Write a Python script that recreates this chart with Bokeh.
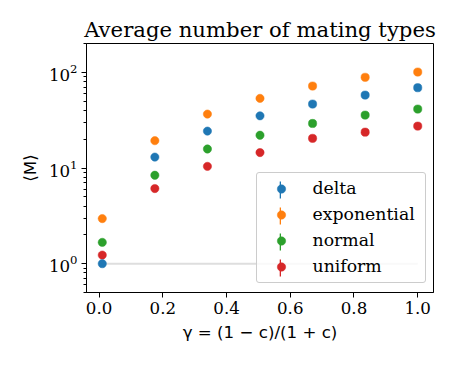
from bokeh.plotting import figure
from bokeh.models import (Range1d, FixedTicker, LogTicker, LogTickFormatter,
                          PrintfTickFormatter, Legend, LegendItem, ColumnDataSource)
from bokeh.embed import file_html
from bokeh.resources import INLINE

# ---- data ----
gamma = [0.01, 0.175, 0.34, 0.505, 0.67, 0.835, 1.0]
delta = [1.0, 13.0, 24.3, 35.1, 46.6, 57.8, 69.0]
exponential = [2.96, 19.3, 36.6, 53.4, 71.9, 88.7, 100.7]
normal = [1.67, 8.4, 15.8, 22.0, 29.2, 35.7, 41.3]
uniform = [1.23, 6.1, 10.4, 14.5, 20.4, 23.7, 27.4]
baseline = [1, 1, 1, 1, 1, 1, 1]
series_names = ["delta", "exponential", "normal", "uniform"]
series_values = [delta, exponential, normal, uniform]
colors = ["#1f77b4", "#ff7f0e", "#2ca02c", "#d62728"]
x_ticks = [0.0, 0.2, 0.4, 0.6, 0.8, 1.0]

TICK_FONT = "DejaVu Serif"
FS = "16.67px"
LEG_FS = "17.3px"

p = figure(frame_width=347, frame_height=249,
           x_range=Range1d(-0.0395, 1.0495), y_range=Range1d(0.5, 200),
           y_axis_type="log", output_backend="svg", toolbar_location=None,
           min_border_left=86, min_border_right=18, min_border_top=43,
           min_border_bottom=66, title="Average number of mating types",
           background_fill_color="white", border_fill_color="white")

p.title.text_font = TICK_FONT
p.title.text_font_size = "21.2px"
p.title.text_font_style = "normal"
p.title.text_color = "black"
p.title.align = "center"
p.title.standoff = 3

p.xgrid.visible = False
p.ygrid.visible = False
p.outline_line_color = "black"
p.outline_line_alpha = 1.0
p.outline_line_width = 1

# light reference line at <M> = 1
p.line(gamma, baseline, line_color="#dedede", line_width=2)

renderers = {}
bars = {}
for name, vals, col in reversed(list(zip(series_names, series_values, colors))):
    src = ColumnDataSource(dict(x=gamma, y=vals))
    # zero-length error bars (invisible in the plot, drawn as the legend handle stroke)
    bars[name] = p.vbar(x="x", top="y", bottom="y", width=0.0, source=src,
                        fill_color=col, line_alpha=0, line_width=0)
    renderers[name] = p.scatter("x", "y", source=src, size=8.3, fill_color=col,
                                line_color=col, line_width=0.5)

# axes
p.xaxis.ticker = FixedTicker(ticks=x_ticks, minor_ticks=[])
p.xaxis.formatter = PrintfTickFormatter(format="%.1f")
p.yaxis.ticker = LogTicker(num_minor_ticks=10)
p.yaxis.formatter = LogTickFormatter()
p.xaxis.axis_label = "γ = (1 − c)/(1 + c)"
p.yaxis.axis_label = "⟨M⟩"
for ax in (p.xaxis, p.yaxis):
    ax.major_label_text_font = TICK_FONT
    ax.major_label_text_font_size = FS
    ax.major_label_text_color = "black"
    ax.axis_label_text_font = "DejaVu Sans"
    ax.axis_label_text_font_size = FS
    ax.axis_label_text_font_style = "normal"
    ax.axis_label_text_color = "black"
    ax.axis_line_color = "black"
    ax.axis_line_width = 1
    ax.major_tick_line_color = "black"
    ax.minor_tick_line_color = "black"
    ax.major_tick_out = 5
    ax.major_tick_in = 0
    ax.minor_tick_out = 3
    ax.minor_tick_in = 0
    ax.major_label_standoff = 4
    ax.axis_label_standoff = 6

# legend with circle markers
items = [LegendItem(label=n, renderers=[renderers[n]]) for n in series_names]
leg = Legend(items=items, location=(169.5, 9.3), orientation="vertical",
             glyph_width=38, glyph_height=21, label_height=21, label_width=107,
             label_standoff=13, spacing=5, padding=5, margin=0,
             label_text_font=TICK_FONT, label_text_font_size=LEG_FS,
             label_text_color="black",
             background_fill_color="white", background_fill_alpha=0.8,
             border_line_color="#cccccc", border_line_width=1, border_line_alpha=1.0)
if "border_radius" in leg.properties():
    leg.border_radius = 3
p.add_layout(leg, "center")

# second, transparent legend drawing the vertical error-bar strokes of the handles
bar_items = [LegendItem(label=" ", renderers=[bars[n]]) for n in series_names]
leg2 = Legend(items=bar_items, location=(169.5 + 18, 9.3), orientation="vertical",
              glyph_width=2, glyph_height=21, label_height=21, label_standoff=0,
              spacing=5, padding=5, margin=0,
              label_text_font=TICK_FONT, label_text_font_size=LEG_FS,
              background_fill_alpha=0.0, border_line_alpha=0.0)
p.add_layout(leg2, "center")

open("out.html", "w").write(file_html(p, INLINE))
